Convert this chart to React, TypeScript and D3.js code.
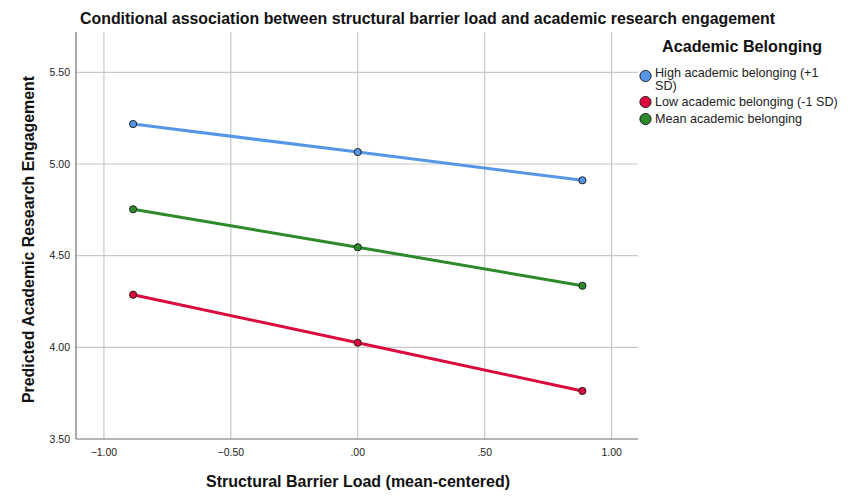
import React from "react";
import * as d3 from "d3";

// x values are -1 SD, mean, +1 SD of structural barrier load
const barrierLevels = [-0.885, 0, 0.885];

const groups = [
  "High academic belonging (+1 SD)",
  "Low academic belonging (-1 SD)",
  "Mean academic belonging",
];
const highValues = [5.218, 5.065, 4.911];
const lowValues = [4.287, 4.025, 3.762];
const meanValues = [4.753, 4.546, 4.336];

const xTicks = [-1, -0.5, 0, 0.5, 1];
const yTicks = [3.5, 4.0, 4.5, 5.0, 5.5];

const colors = ["#5596e6", "#dc0a3c", "#2c8a2a"];

const width = 854;
const height = 504;
const margin = { top: 32, right: 216, bottom: 65, left: 76 };

const fmt = (v: number) => {
  const s = d3.format(".2f")(v);
  return s.replace(/^(-?)0\./, "$1.");
};

export default function App() {
  const x = d3
    .scaleLinear()
    .domain([-1.11, 1.104])
    .range([margin.left, width - margin.right]);
  const y = d3
    .scaleLinear()
    .domain([3.5, 5.72])
    .range([height - margin.bottom, margin.top]);

  const series = [highValues, lowValues, meanValues];
  const line = d3
    .line<number>()
    .x((_, i) => x(barrierLevels[i]))
    .y((d) => y(d));

  const font = "'Liberation Sans', Arial, sans-serif";
  const x0 = margin.left;
  const x1 = width - margin.right;
  const yBottom = height - margin.bottom;

  return (
    <svg
      width={width}
      height={height}
      style={{ position: "absolute", left: 0, top: 0, background: "#fff" }}
      fontFamily={font}
    >
      <rect width={width} height={height} fill="#fff" />
      {/* grid */}
      {xTicks.map((t) => (
        <line
          key={"gx" + t}
          x1={x(t)}
          x2={x(t)}
          y1={margin.top}
          y2={yBottom}
          stroke="#c8c8c8"
          strokeWidth={1.2}
        />
      ))}
      {yTicks.slice(1).map((t) => (
        <line
          key={"gy" + t}
          x1={x0}
          x2={x1}
          y1={y(t)}
          y2={y(t)}
          stroke="#c8c8c8"
          strokeWidth={1.2}
        />
      ))}
      {/* axes */}
      <line x1={x0} x2={x0} y1={margin.top} y2={yBottom} stroke="#6e6e6e" strokeWidth={1.2} />
      <line x1={x0} x2={x1} y1={yBottom} y2={yBottom} stroke="#6e6e6e" strokeWidth={1.2} />
      {yTicks.map((t) => (
        <text
          key={"ty" + t}
          x={70}
          y={y(t)}
          dy="0.35em"
          textAnchor="end"
          fontSize={10.5}
          fill="#222"
        >
          {fmt(t)}
        </text>
      ))}
      {xTicks.map((t) => (
        <text
          key={"tx" + t}
          x={x(t)}
          y={yBottom + 17}
          textAnchor="middle"
          fontSize={10.5}
          fill="#222"
        >
          {fmt(t)}
        </text>
      ))}
      {/* lines */}
      {series.map((vals, s) => (
        <path
          key={"l" + s}
          d={line(vals) || ""}
          fill="none"
          stroke={colors[s]}
          strokeWidth={3}
        />
      ))}
      {series.map((vals, s) =>
        vals.map((v, i) => (
          <circle
            key={"p" + s + i}
            cx={x(barrierLevels[i])}
            cy={y(v)}
            r={3.6}
            fill={colors[s]}
            stroke="#222"
            strokeWidth={1}
          />
        ))
      )}
      {/* title and axis labels */}
      <text x={80} y={24} fontSize={15.9} fontWeight="bold" fill="#111">
        Conditional association between structural barrier load and academic research engagement
      </text>
      <text
        transform={`translate(34,${(margin.top + yBottom) / 2 + 4}) rotate(-90)`}
        textAnchor="middle"
        fontSize={15.9}
        fontWeight="bold"
        fill="#111"
      >
        Predicted Academic Research Engagement
      </text>
      <text
        x={358}
        y={487}
        textAnchor="middle"
        fontSize={16}
        fontWeight="bold"
        fill="#111"
      >
        Structural Barrier Load (mean-centered)
      </text>
      {/* legend */}
      <text x={742} y={52} textAnchor="middle" fontSize={16.2} fontWeight="bold" fill="#111">
        Academic Belonging
      </text>
      {[
        { cy: 76, lines: ["High academic belonging (+1", "SD)"] },
        { cy: 102, lines: [groups[1]] },
        { cy: 119, lines: [groups[2]] },
      ].map((g, i) => (
        <g key={"lg" + i}>
          <circle cx={645.5} cy={g.cy} r={5.6} fill={colors[i]} stroke="#222" strokeWidth={1} />
          {g.lines.map((t, j) => (
            <text
              key={j}
              x={655}
              y={(i === 0 ? 73 : g.cy) + j * 12.5}
              dy="0.35em"
              fontSize={12.6}
              fill="#222"
            >
              {t}
            </text>
          ))}
        </g>
      ))}
    </svg>
  );
}
